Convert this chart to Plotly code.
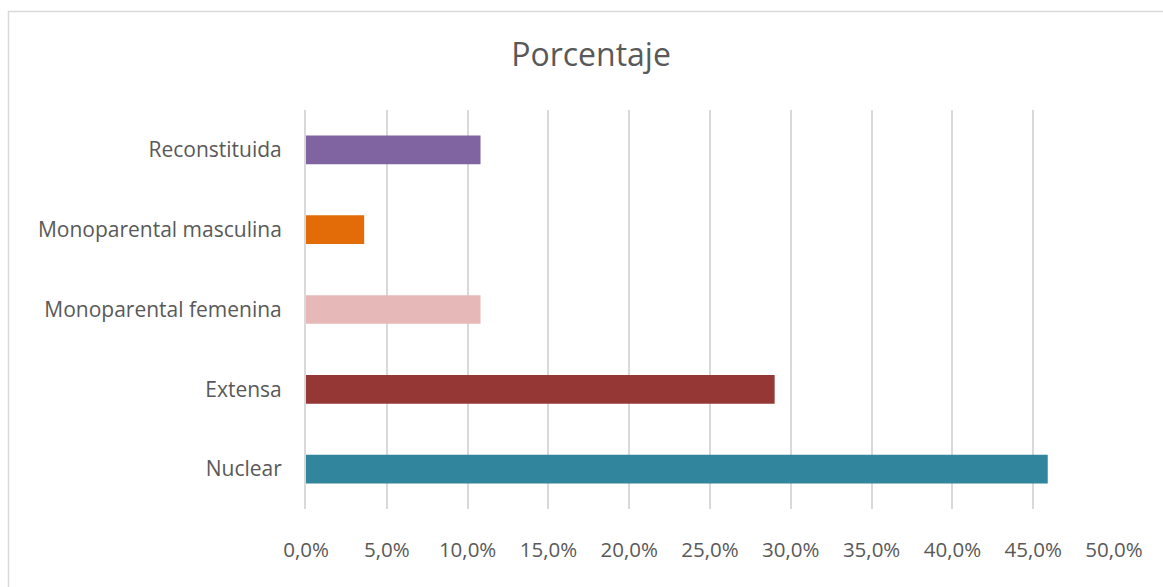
import plotly.graph_objects as go

categories = ["Nuclear", "Extensa", "Monoparental femenina", "Monoparental masculina", "Reconstituida"]
values = [0.459, 0.290, 0.108, 0.036, 0.108]
colors = ["#31859C", "#953735", "#E6B9B8", "#E36C09", "#8064A2"]
tick_vals = [i * 0.05 for i in range(11)]
tick_text = [f"{i*5},0%" for i in range(11)]

W, H = 1163, 587
L, R, T, B = 306, 49, 110, 78
pw, ph = W - L - R, H - T - B

def px(x):
    return (x - L) / pw

def py(y):
    return 1 - (y - T) / ph

fig = go.Figure(go.Bar(
    x=values, y=categories, orientation="h",
    marker=dict(color=colors, line=dict(width=0)),
    hoverinfo="skip",
))

fig.update_layout(
    width=W, height=H,
    margin=dict(l=L, r=R, t=T, b=B),
    paper_bgcolor="white", plot_bgcolor="white",
    bargap=0.64,
    showlegend=False,
    font=dict(family="Open Sans, sans-serif", color="#595959"),
    title=dict(text="Porcentaje", x=591 / W, xanchor="center", y=1 - 55 / H, yanchor="middle",
               font=dict(size=32, color="#595959")),
    xaxis=dict(range=[0, 0.5], tickvals=tick_vals, ticktext=tick_text,
               showgrid=True, gridcolor="#D9D9D9", gridwidth=2,
               zeroline=False, showline=False, ticks="",
               tickfont=dict(size=20.5, color="#595959"), ticklabelstandoff=26),
    yaxis=dict(showgrid=False, zeroline=False, showline=True, linecolor="#D9D9D9", linewidth=2,
               ticks="", tickfont=dict(size=21, color="#595959"), ticklabelstandoff=18),
    shapes=[dict(type="rect", xref="paper", yref="paper",
                 x0=px(8.5), x1=px(1175), y0=py(11.5), y1=py(600),
                 line=dict(color="#D9D9D9", width=1.5), fillcolor="rgba(0,0,0,0)", layer="below")],
)

fig.write_html("out.html")
